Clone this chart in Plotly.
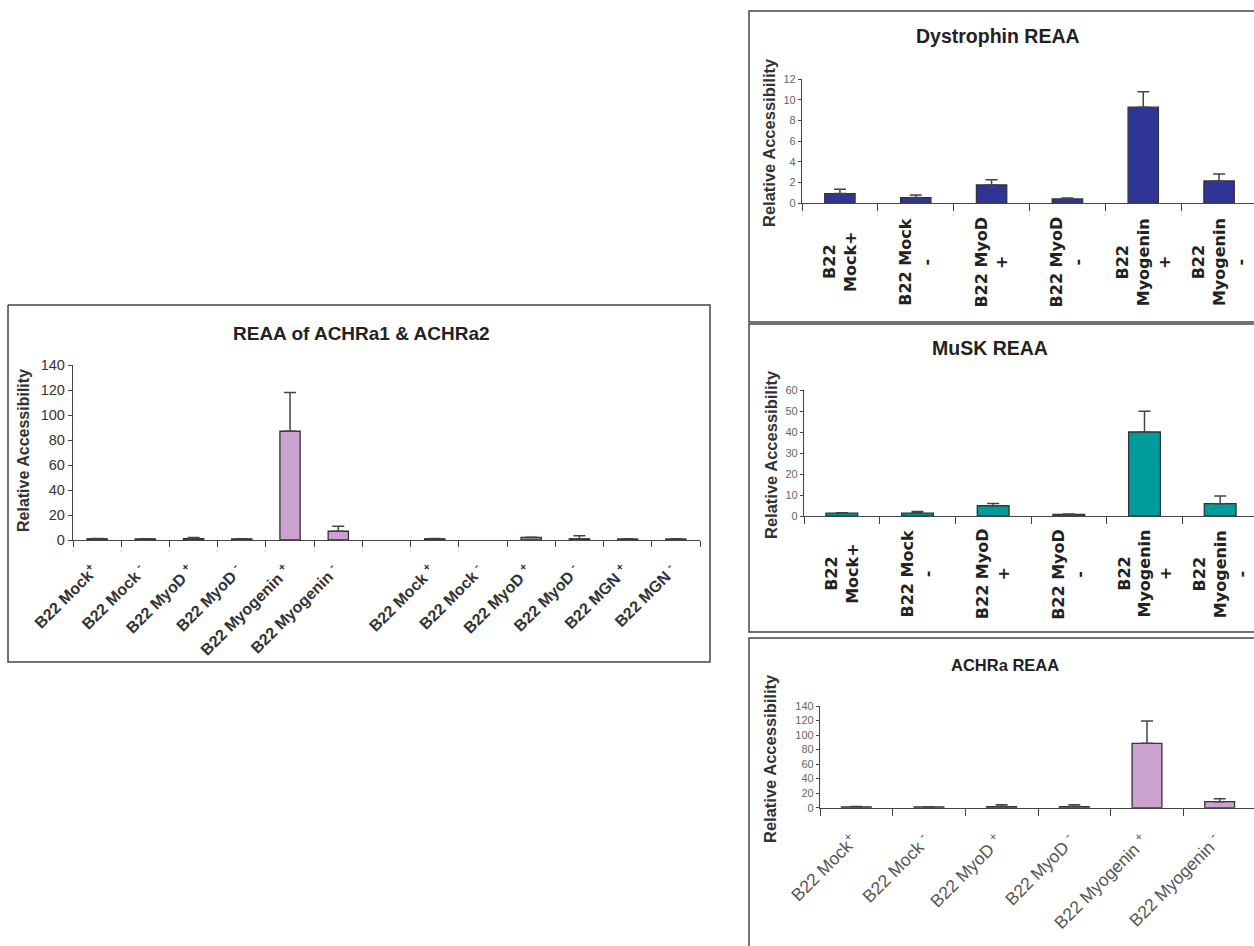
import plotly.graph_objects as go

W, H = 1254, 946
FONT = "Liberation Sans, Arial, sans-serif"
WIDE = "DejaVu Sans, Liberation Sans, sans-serif"
NARROW = "Liberation Sans Narrow, Arial Narrow, Liberation Sans, sans-serif"

# ---- REAA of ACHRa1 & ACHRa2 (two groups separated by an empty slot) ----
combo_labels = [
    "B22 Mock<sup>+</sup>", "B22 Mock <sup>-</sup>", "B22 MyoD <sup>+</sup>",
    "B22 MyoD <sup>-</sup>", "B22 Myogenin <sup>+</sup>", "B22 Myogenin <sup>-</sup>",
    "",
    "B22 Mock <sup>+</sup>", "B22 Mock <sup>-</sup>", "B22 MyoD <sup>+</sup>",
    "B22 MyoD <sup>-</sup>", "B22 MGN <sup>+</sup>", "B22 MGN <sup>-</sup>",
]
combo_values = [1.0, 0.9, 1.1, 0.9, 87.0, 7.0, None, 1.0, None, 2.0, 1.0, 0.8, 0.8]
combo_errors = [0.2, 0.2, 1.0, 0.2, 31.0, 4.0, None, 0.2, None, 0.3, 2.5, 0.2, 0.2]

# ---- Dystrophin REAA ----
dys_labels = ["B22<br>Mock+", "B22 Mock<br>-", "B22 MyoD<br>+", "B22 MyoD<br>-",
              "B22<br>Myogenin<br>+", "B22<br>Myogenin<br>-"]
dys_values = [0.94, 0.55, 1.77, 0.42, 9.3, 2.16]
dys_errors = [0.41, 0.25, 0.52, 0.10, 1.5, 0.68]

# ---- MuSK REAA ----
musk_labels = dys_labels
musk_values = [1.4, 1.4, 4.9, 0.8, 40.1, 5.9]
musk_errors = [0.2, 0.7, 1.1, 0.1, 9.9, 3.6]

# ---- ACHRa REAA ----
achr_labels = ["B22 Mock<sup>+</sup>", "B22 Mock <sup>-</sup>", "B22 MyoD <sup>+</sup>",
               "B22 MyoD <sup>-</sup>", "B22 Myogenin <sup>+</sup>", "B22 Myogenin <sup>-</sup>"]
achr_values = [1.2, 1.0, 1.5, 1.5, 88.6, 8.3]
achr_errors = [0.3, 0.3, 2.6, 2.6, 30.7, 4.1]

PINK = "#CBA2CF"
NAVY = "#2F3595"
TEAL = "#009B9B"
EDGE = "#333333"
AXIS = "#444444"


def px(x):
    return x / W


def py(y):
    return 1 - y / H


def err(arr):
    return dict(type="data", symmetric=False, array=arr, arrayminus=[0] * len(arr),
                color=AXIS, thickness=1.5, width=6)


fig = go.Figure()

fig.add_trace(go.Bar(x=list(range(len(combo_values))), y=combo_values, width=0.42,
                     marker=dict(color=PINK, line=dict(color=EDGE, width=1.3)),
                     error_y=err(combo_errors), xaxis="x", yaxis="y"))
fig.add_trace(go.Bar(x=dys_labels, y=dys_values, width=0.40,
                     marker=dict(color=NAVY, line=dict(color=EDGE, width=1.3)),
                     error_y=err(dys_errors), xaxis="x2", yaxis="y2"))
fig.add_trace(go.Bar(x=musk_labels, y=musk_values, width=0.42,
                     marker=dict(color=TEAL, line=dict(color=EDGE, width=1.3)),
                     error_y=err(musk_errors), xaxis="x3", yaxis="y3"))
fig.add_trace(go.Bar(x=achr_labels, y=achr_values, width=0.41,
                     marker=dict(color=PINK, line=dict(color=EDGE, width=1.3)),
                     error_y=err(achr_errors), xaxis="x4", yaxis="y4"))

common_y = dict(showgrid=False, zeroline=False, showline=True, linecolor=AXIS,
                linewidth=1.3, ticks="outside", tickcolor=AXIS, tickwidth=1.2,
                automargin=False)
common_x = dict(showgrid=False, zeroline=False, showline=True, linecolor=AXIS,
                linewidth=1.3, tickcolor=AXIS, tickwidth=1.2, automargin=False)

n = len(combo_labels)
fig.update_layout(
    xaxis=dict(common_x, domain=[px(73), px(700)], anchor="y", range=[-0.5, n - 0.5],
               tickmode="array", tickvals=list(range(n)), ticktext=combo_labels,
               ticks="outside", ticklen=6, tickcolor="rgba(0,0,0,0)", tickangle=-45,
               ticklabelstandoff=8, ticklabelshift=-4,
               tickfont=dict(family=FONT, size=16, color="#333333", weight="bold"),
               minor=dict(tickmode="array", tickvals=[i - 0.5 for i in range(n + 1)],
                          ticks="outside", ticklen=6, tickcolor=AXIS, tickwidth=1.2)),
    yaxis=dict(common_y, domain=[py(540), py(365)], anchor="x", range=[0, 140], dtick=20,
               ticklen=4, tickfont=dict(family=FONT, size=14.5, color="#333333")),
    xaxis2=dict(common_x, domain=[px(802), 1], anchor="y2", type="category",
                range=[-0.5, -0.5 + (1254 - 802) / ((1257 - 802) / 6)],
                ticks="outside", tickson="boundaries", ticklen=7, showticklabels=False),
    yaxis2=dict(common_y, domain=[py(203.3), py(79.3)], anchor="x2", range=[0, 12], dtick=2,
                ticklen=3, tickfont=dict(family=NARROW, size=11, color="#666666")),
    xaxis3=dict(common_x, domain=[px(804), 1], anchor="y3", type="category",
                range=[-0.5, -0.5 + (1254 - 804) / ((1258 - 804) / 6)],
                ticks="outside", tickson="boundaries", ticklen=7, showticklabels=False),
    yaxis3=dict(common_y, domain=[py(516), py(390.3)], anchor="x3", range=[0, 60], dtick=10,
                ticklen=3, tickfont=dict(family=NARROW, size=11, color="#666666")),
    xaxis4=dict(common_x, domain=[px(820), 1], anchor="y4", type="category",
                range=[-0.5, -0.5 + (1254 - 820) / ((1256 - 820) / 6)],
                ticks="outside", tickson="boundaries", ticklen=7, tickangle=-45,
                ticklabelstandoff=15, ticklabelshift=-4,
                tickfont=dict(family=FONT, size=17.5, color="#555555")),
    yaxis4=dict(common_y, domain=[py(807.7), py(706)], anchor="x4", range=[0, 140], dtick=20,
                ticklen=3, tickfont=dict(family=NARROW, size=11, color="#666666")),
)


def frame_path(points):
    return "M " + " L ".join(f"{px(x):.5f},{py(y):.5f}" for x, y in points)


# Panel frames (the right-hand panels run off the right/bottom edge of the page)
frames = [
    [(8, 305), (710, 305), (710, 662), (8, 662), (8, 305)],
    [(1254, 11), (749, 11), (749, 322), (1254, 322)],
    [(1254, 324), (749, 324), (749, 632), (1254, 632)],
    [(1254, 638), (749, 638), (749, 946)],
]
for pts in frames:
    fig.add_shape(type="path", xref="paper", yref="paper", path=frame_path(pts),
                  line=dict(color="#444444", width=1.5), fillcolor="rgba(0,0,0,0)")

# Panel titles
titles = [("REAA of ACHRa1 & ACHRa2", 361, 333, 19),
          ("Dystrophin REAA", 998, 36, 19.5),
          ("MuSK REAA", 990, 348, 19.5),
          ("ACHRa REAA", 1005, 665, 16.5)]
for text, cx, cy, size in titles:
    fig.add_annotation(text=text, x=px(cx), y=py(cy), xref="paper", yref="paper",
                       showarrow=False, xanchor="center", yanchor="middle",
                       font=dict(family=FONT, size=size, color="#222222", weight="bold"))

# Y-axis titles
ytitles = [(24, 451, 16), (769, 143, 16.5), (771, 455, 16.5), (770, 759, 16.5)]
for cx, cy, size in ytitles:
    fig.add_annotation(text="Relative Accessibility", x=px(cx), y=py(cy), xref="paper",
                       yref="paper", showarrow=False, textangle=-90,
                       xanchor="center", yanchor="middle",
                       font=dict(family=FONT, size=size, color="#333333", weight="bold"))

# Vertical category labels for the Dystrophin and MuSK panels
for labels, xref, cy in [(dys_labels, "x2", 262), (musk_labels, "x3", 574)]:
    for lab in labels:
        fig.add_annotation(text=lab, x=lab, y=py(cy), xref=xref, yref="paper",
                           showarrow=False, textangle=-90, align="center",
                           xanchor="center", yanchor="middle",
                           font=dict(family=WIDE, size=16, color="#222222", weight="bold"))

fig.update_layout(
    width=W, height=H, autosize=False, showlegend=False,
    margin=dict(l=0, r=0, t=0, b=0, pad=0),
    paper_bgcolor="white", plot_bgcolor="white",
    bargap=0.6,
)

fig.write_html("out.html")
